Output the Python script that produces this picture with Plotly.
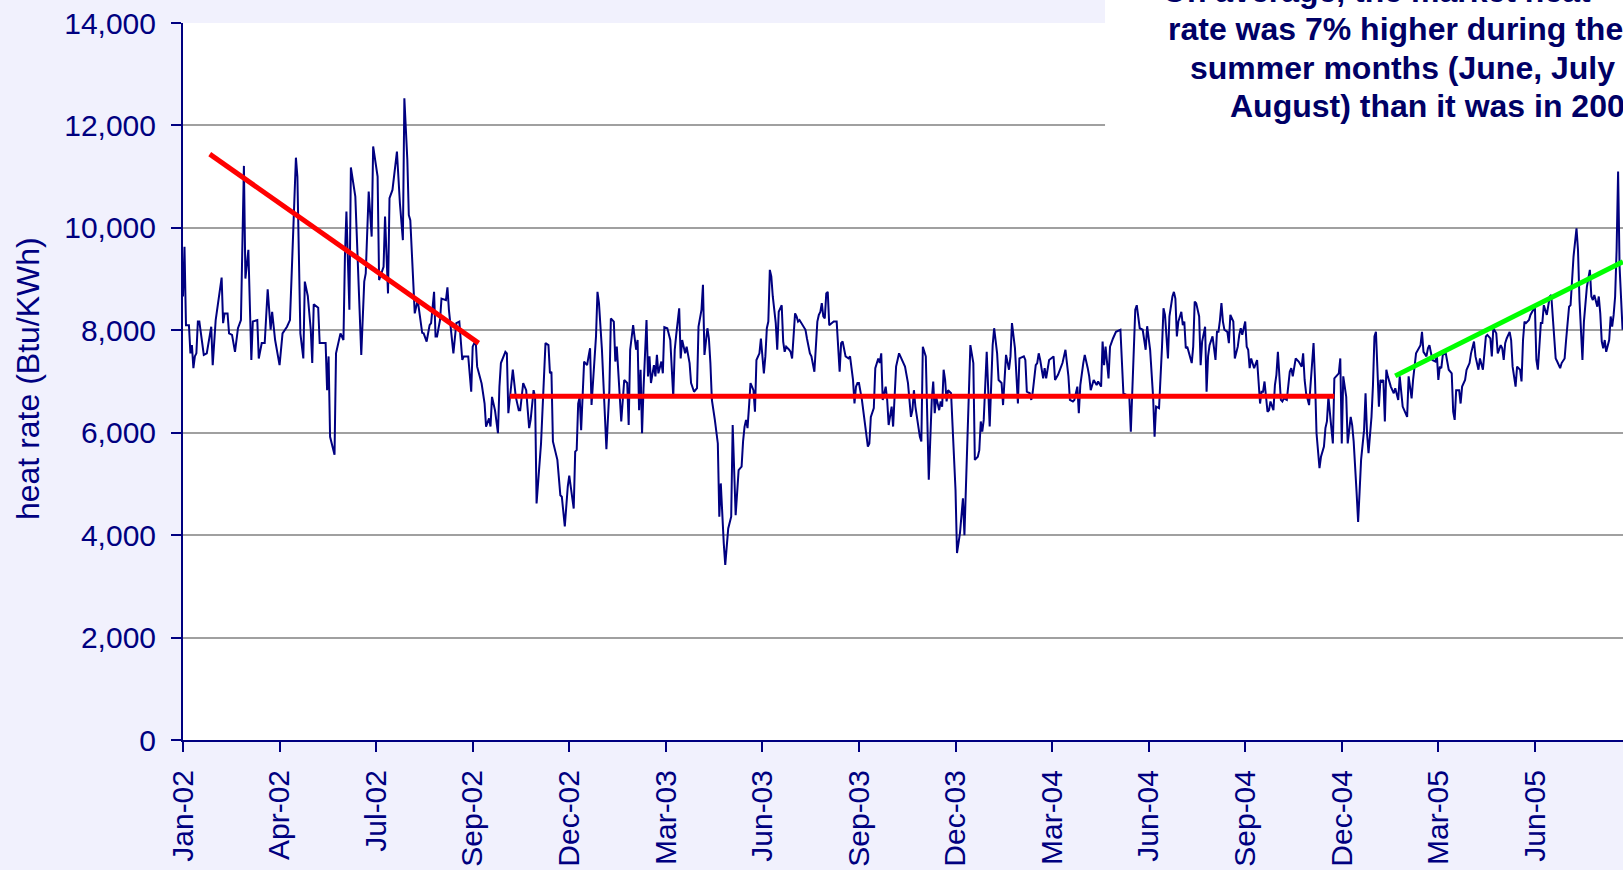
import plotly.graph_objects as go

FONT = "Liberation Sans, Arial, sans-serif"
NAVY = "#000080"

# ---- x-axis: trading-day index, one labelled tick every 65 days ----
tick_labels = ["Jan-02", "Apr-02", "Jul-02", "Sep-02", "Dec-02", "Mar-03", "Jun-03",
               "Sep-03", "Dec-03", "Mar-04", "Jun-04", "Sep-04", "Dec-04", "Mar-05", "Jun-05"]
points_per_tick = 65

# ---- daily market heat rate (Btu/KWh), vertices ----
day_index = [
    0, 1, 2, 4, 5, 6, 7, 8, 9, 10, 11, 14, 16, 18, 19, 20, 22, 26, 27, 28, 30, 31, 33, 35, 36, 37, 39,
    41, 42, 44, 46, 47, 50, 51, 53, 55, 57, 59, 60, 62, 65, 67, 70, 72, 73, 76, 77, 79, 81, 82, 84, 86,
    87, 88, 91, 92, 96, 97, 98, 99, 102, 103, 106, 108, 109, 110, 112, 113, 116, 117, 119, 120, 122, 123,
    125, 127, 128, 131, 132, 135, 136, 138, 139, 141, 144, 146, 148, 149, 151, 152, 153, 156, 158, 161,
    162, 164, 166, 167, 169, 170, 171, 173, 174, 177, 178, 179, 182, 184, 186, 188, 189, 192, 194, 195,
    197, 198, 201, 203, 204, 206, 207, 208, 210, 212, 213, 214, 217, 218, 219, 222, 224, 226,
    227, 229, 231, 233, 234, 236, 237, 238, 241, 243, 244, 246, 247, 248, 249, 252, 254, 255, 257, 259,
    260, 263, 264, 265, 266, 267, 268, 270, 272, 273, 274, 275, 276, 278, 279, 280, 282, 283, 285, 287,
    288, 290, 291, 292, 294, 295, 297, 299, 300, 301, 303, 304, 305, 306, 307, 308, 309, 310, 311, 312,
    313, 314, 315, 317, 318, 319, 320, 322, 323, 324, 326, 328, 330, 331, 332, 334, 335, 336, 338, 339,
    341, 342, 344, 346, 347, 349, 350, 351, 353, 354, 355, 356, 358, 360, 361, 362, 364, 365, 367, 369,
    370, 372, 374, 376, 377, 378, 379, 380, 381, 382, 383, 384, 385, 386, 388, 389, 391, 392, 393, 394,
    395, 396, 397, 399, 400, 401, 403, 404, 405, 406, 408, 409, 410, 411, 412, 413, 414, 415, 417, 419,
    420, 422, 423, 425, 427, 428, 429, 430, 431, 432, 433, 434, 435, 438, 440, 441, 442, 443, 444, 446,
    448, 449, 451, 452, 453, 454, 455, 457, 459, 461, 462, 463, 465, 466, 468, 469, 470, 471, 473, 474,
    475, 477, 478, 480, 482,
    486, 488, 490, 491, 492, 493, 495, 496, 497, 498, 500, 502, 504, 505, 506, 507, 509, 510, 511, 512,
    513, 514, 515, 517, 520, 521, 523, 525, 526, 530, 532, 533, 535, 536, 537, 538, 539, 540, 541, 543,
    544, 545, 546, 548, 549, 551, 552, 553, 554, 556, 557, 558, 560, 562, 563, 566, 567, 568, 570, 571,
    572, 574, 575, 576, 577, 579, 580, 581, 583, 586, 587, 589, 591, 592, 594, 596, 597, 599, 600, 602,
    603, 604, 606, 607, 609, 610, 611, 613, 615, 616, 618, 619, 620, 621, 623, 624, 626, 628, 631, 633,
    635, 637, 638, 640, 641, 642, 644, 646, 648, 649, 651, 653, 654, 655, 657, 659, 660, 661, 662, 663,
    664, 666, 667, 668, 669, 670, 672, 673, 674, 675, 676, 678, 679, 680, 681, 682, 684, 685, 686, 688,
    689, 690, 691, 693, 695, 696, 697, 698, 699, 700, 701, 703, 704, 705, 707, 708, 710, 711, 712, 713,
    715, 716, 717, 718, 719, 721, 723, 725, 726, 727, 728, 730, 731, 732, 734, 735, 736, 737, 739, 740,
    741, 743, 745, 746, 747, 749, 751,
    753, 754, 755, 756, 758, 759, 761, 762, 763, 765, 766, 768, 769, 770, 771, 773, 774, 775, 778, 779,
    780, 781, 783, 784, 786, 787, 788, 790, 791, 792, 793, 795, 796, 797, 798, 800, 801, 802, 803, 805,
    806, 807, 808, 809, 810, 811, 813, 815, 816, 818, 819, 821, 822, 824, 825, 827, 828, 830, 833, 834,
    835, 837, 838, 839, 841, 843, 844, 845, 846, 847, 848, 850, 851, 852, 854, 855, 856, 857, 859, 860,
    861, 863, 864, 866, 867, 868, 869, 870, 872, 873, 875, 876, 877, 878, 880, 881, 882, 884, 885, 887,
    888, 889, 890, 891, 893, 894, 895, 897, 898, 900, 901, 902, 903, 904, 906, 907, 909, 910, 911, 912,
    913, 914, 915, 916, 918, 920, 921, 922, 923, 924, 925, 927, 928, 930, 931, 932, 933, 934, 935, 936,
    938, 939, 940, 941, 942, 943, 944, 945, 947, 948, 949, 950, 952, 953, 954, 955, 956, 957, 958, 960,
    961, 962, 963, 964, 965, 966, 967, 968, 969,
]
heat_rate = [
    8660, 9630, 8100, 8100, 7550, 7710, 7260, 7490, 7550, 8170, 8170, 7520, 7550, 7940, 8070, 7320, 8200, 9030, 8140, 8330, 8330, 7940, 7910, 7580, 7840, 8040, 8200,
    11210, 9010, 9570, 7420, 8170, 8200, 7450, 7750, 7750, 8800, 8010, 8360, 7810, 7320, 7940, 8070, 8200, 8980, 11370, 11000, 7940, 7450, 8950, 8670, 8010,
    7360, 8510, 8440, 7750, 7750, 6830, 7490, 5920, 5570, 7550, 7940, 7810, 9440, 10320, 8400, 11180, 10610, 9760, 7940, 7520, 8950, 9110,
    10710, 9830, 11590, 11000, 8980, 9240, 10220, 8720, 10580, 10740, 11490, 10480, 9760, 12530, 11330, 10250, 10150, 8330, 8590, 7950,
    7940, 7780, 8100, 8140, 8750, 7880, 7880, 8200, 8620, 8590, 8840, 8400, 7550, 8140, 8170, 7420, 7490, 7490, 6800, 7680,
    7810, 7290, 6960, 6570, 6120, 6280, 6120, 6700, 6440, 5990, 6900, 7360, 7580, 7550, 6380, 7230, 6700, 6440,
    6440, 6970, 6830, 6090, 6250, 6830, 6700, 4620, 5790, 7290, 7750, 7710, 7160, 7190, 5830, 5470, 4780, 4750, 4170, 4950,
    5160, 4520, 5630, 5660, 6570, 6700, 6050, 7390, 7320, 7490, 7650, 6540, 6970, 7880, 8750, 8530, 7620, 7030, 5680, 6830,
    8230, 8170, 7390, 7680, 6700, 6220, 7030, 6970, 6150, 7620, 8100, 7880, 7620, 7810, 6440, 7230, 5990, 6870, 7420, 8200,
    7100, 7490, 6970, 7320, 7100, 7520, 7160, 7390, 7160, 8060, 8040, 7810, 6700, 7620, 7910, 8430, 7450, 7810, 7550, 7680,
    7360, 6970, 6800, 6870, 8070, 8400, 8890, 7520, 8040, 7840, 7360, 6640, 6250, 5790, 4360, 5010, 3840, 3420, 4130, 4360,
    6150, 4390, 5270, 5340, 5830, 6120, 6250, 6090, 6510, 6970, 6900, 6830, 6410, 7420, 7550, 7840, 7160, 7490, 8040, 8170,
    9180, 9050, 8660, 8140, 7620, 8360, 8490, 7780, 7580, 7680, 7620, 7580, 7450, 8010, 8330, 8270, 8170, 8200, 8100, 8010,
    7840, 7550, 7490, 7190, 8170, 8300, 8360, 8530, 8270, 8230, 8720, 8750, 8100, 8170, 8170, 7680, 7190, 7750, 7780, 7490,
    7450, 7490, 7030, 6570, 6900, 6970, 6970, 6640, 6180, 5730, 5790, 6310, 6480, 7260, 7450, 7360, 7550, 6640, 6900, 6640,
    6150, 6510, 6120, 7290, 7550,
    7290, 6970, 6310, 6440, 6830, 6510, 6120, 5920, 5830, 7680, 7490, 5080, 6640, 7000, 6380, 6700, 6440, 6610, 6510, 7230,
    7030, 6610, 6830, 6770, 4880, 3650, 4040, 4720, 4000, 7710, 7360, 5470, 5530, 5660, 6220, 6020, 6250, 6970, 7580, 6120,
    6970, 7710, 8040, 7550, 7030, 6970, 6540, 7190, 7520, 7230, 7490, 8140, 7650, 6570, 7450, 7490, 7420, 6800, 6770, 6640,
    6800, 7320, 7360, 7550, 7420, 7060, 7260, 7060, 7420, 7490, 7030, 7130, 7290, 7360, 7620, 7100, 6640, 6610, 6640, 6900,
    6380, 6930, 7360, 7520, 7260, 7100, 6830, 7030, 6930, 7000, 6900, 7780, 7320, 7680, 7060, 7680, 7840, 7970, 8010, 6770,
    6740, 6700, 6020, 7680, 8400, 8490, 8040, 8010, 7620, 8080, 7620, 6700, 5920, 6510, 6480, 7680, 8430, 8300, 7880, 7450,
    8270, 8660, 8750, 8620, 7880, 8170, 8360, 8100, 8170, 7650, 7680, 7490, 7360, 7680, 8560, 8530, 8270, 7320, 7780, 8070,
    6800, 7490, 7710, 7880, 7420, 7970, 7970, 8200, 8530, 8170, 8010, 7970, 7750, 8300, 8170, 7450, 7680, 7910, 8040, 7910,
    8170, 7680, 7620, 7260, 7450, 7260, 7420, 6570, 6800, 6800, 7000, 6410, 6440, 6610, 6440, 6930, 7130, 7580, 6640, 6610,
    6670, 6640, 7190, 7260, 7100, 7450, 7390,
    7290, 7550, 7030, 6770, 6540, 6900, 7750, 7030, 5990, 5310, 5530, 5730, 6090, 6220, 6700, 6090, 5790, 7060, 7160, 7450,
    5790, 7100, 6700, 5790, 6310, 6150, 5830, 4820, 4260, 4850, 5470, 6050, 6770, 5990, 5600, 6310, 6930, 7880, 7970, 6510,
    7030, 7000, 7030, 6220, 7230, 7100, 6900, 6770, 6870, 6640, 7100, 6510, 6440, 6310, 7100, 6670, 7030, 7550, 7710, 7970,
    7580, 7490, 7650, 7710, 7420, 7390, 7520, 7030, 7290, 7260, 7520, 7550, 7390, 7230, 7160, 6410, 6250, 6830, 6830, 6570,
    6900, 7030, 7230, 7360, 7550, 7680, 7780, 7490, 7230, 7450, 7230, 7550, 7880, 7910, 7840, 7490, 8040, 7940, 7550, 7710,
    7650, 7420, 7750, 7840, 7970, 7810, 7290, 6900, 7290, 7230, 7000, 7810, 8170, 8140, 8200, 8300, 8400, 8460, 7420, 7230,
    7680, 8140, 8140, 8490, 8300, 8660, 8690, 8330, 7940, 7450, 7390, 7260, 7360, 7450, 7810, 8140, 8460, 8490, 8980, 9440,
    9990, 9570, 8590, 7880, 7420, 8170, 8460, 8850, 9180, 8660, 8590, 8690, 8460, 8660, 8330, 7780, 7650, 7810, 7580, 7810,
    8270, 8070, 8300, 8660, 9570, 11100, 9240, 8690, 8010,
]

# ---- hand-drawn trend lines (day index, heat rate) ----
trend_2002_x, trend_2002_y = [18, 199], [11440, 7750]
flat_x, flat_y = [220, 775], [6710, 6710]
trend_2005_x, trend_2005_y = [816, 969.3], [7110, 9340]

note_lines = ["On average, the market heat",
              "rate was 7% higher during the",
              "summer months (June, July and",
              "August) than it was in 2004."]

fig = go.Figure()
fig.add_trace(go.Scatter(x=day_index, y=heat_rate, mode="lines",
                         line=dict(color=NAVY, width=2), hoverinfo="skip"))
fig.add_trace(go.Scatter(x=trend_2002_x, y=trend_2002_y, mode="lines",
                         line=dict(color="#FF0000", width=5), hoverinfo="skip"))
fig.add_trace(go.Scatter(x=flat_x, y=flat_y, mode="lines",
                         line=dict(color="#FF0000", width=5), hoverinfo="skip"))
fig.add_trace(go.Scatter(x=trend_2005_x, y=trend_2005_y, mode="lines",
                         line=dict(color="#00FF00", width=5), hoverinfo="skip"))

fig.update_layout(
    width=1623, height=870,
    margin=dict(l=183, r=0, t=23, b=130),
    paper_bgcolor="#F1F1FD", plot_bgcolor="#FFFFFF",
    showlegend=False,
    font=dict(family=FONT, color=NAVY),
)
fig.update_xaxes(
    range=[0, 969.3],
    tickmode="array",
    tickvals=[i * points_per_tick for i in range(len(tick_labels))],
    ticktext=tick_labels, tickangle=-90,
    showgrid=False, zeroline=False,
    showline=True, linecolor=NAVY, linewidth=2,
    ticks="outside", ticklen=10, tickwidth=2, tickcolor=NAVY,
    tickfont=dict(family=FONT, size=30, color=NAVY),
    ticklabelstandoff=6,
)
fig.update_yaxes(
    range=[0, 14000], dtick=2000, tickformat=",",
    showgrid=True, gridcolor="#A0A0A0", gridwidth=2,
    zeroline=False,
    showline=True, linecolor=NAVY, linewidth=2,
    ticks="outside", ticklen=10, tickwidth=2, tickcolor=NAVY,
    tickfont=dict(family=FONT, size=30, color=NAVY),
    ticklabelstandoff=9,
)

# white text box in the top-right corner (covers the grid there)
fig.add_shape(type="rect", xref="paper", yref="paper",
              x0=0.6403, x1=1.05, y0=0.8368, y1=1.1,
              fillcolor="#FFFFFF", line=dict(width=0), layer="above")

# y-axis title
fig.add_annotation(text="heat rate (Btu/KWh)", xref="paper", yref="paper",
                   x=-0.1076, y=0.5035, xanchor="center", yanchor="middle",
                   textangle=-90, showarrow=False,
                   font=dict(family=FONT, size=32, color=NAVY))

note_x = [0.6785, 0.6826, 0.6979, 0.7257]
note_y = [1.045, 0.9916, 0.9372, 0.8842]
for txt, nx, ny in zip(note_lines, note_x, note_y):
    fig.add_annotation(text="<b>%s</b>" % txt, xref="paper", yref="paper",
                       x=nx, y=ny, xanchor="left", yanchor="middle",
                       showarrow=False,
                       font=dict(family=FONT, size=32, color="#000066"))

fig.write_html("out.html", config={"displayModeBar": False},
               post_script="document.body.style.margin='0';document.body.style.overflow='hidden';")
